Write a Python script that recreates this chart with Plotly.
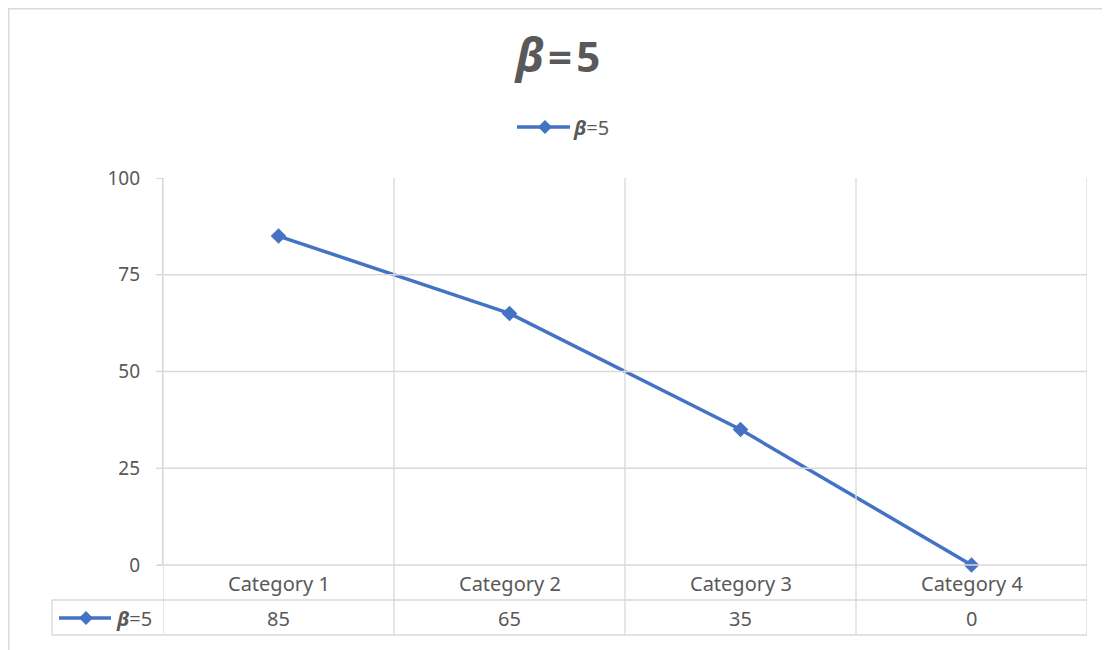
import plotly.graph_objects as go

categories = ["Category 1", "Category 2", "Category 3", "Category 4"]
values = [85, 65, 35, 0]
series_name = "<b><i>β</i></b>=5"
title_text = "<b><i><span style='font-size:46px'>β</span></i>\u200a=\u200a5</b>"
y_ticks = [0, 25, 50, 75, 100]

blue = "#4472C4"
grey = "#D9D9D9"
txt = "#595959"
font = "Noto Sans"

# page has an 8px body margin; positions below are screen pixels
OFF = 8
W, H = 1110 - OFF, 650 - OFF
# plot area on screen: x 163..1087, y 178..565
L, R, T, B = 163, 1087, 178, 565


def px(x):
    return (x - L) / (R - L)


def py(y):
    return (B - y) / (B - T)


fig = go.Figure()
fig.add_trace(go.Scatter(
    x=categories, y=values, name=series_name, mode="lines+markers",
    line=dict(color=blue, width=3.5),
    marker=dict(symbol="diamond", size=12, color=blue),
    showlegend=False, cliponaxis=False,
))

shapes = []
line = dict(color=grey, width=1.3)
# horizontal gridlines (no line at the top value)
for v in y_ticks[1:-1]:
    shapes.append(dict(type="line", xref="paper", yref="y", x0=px(157), x1=1, y0=v, y1=v, line=line))
# category boundaries run down through the data table
for i in range(len(categories) + 1):
    shapes.append(dict(type="line", xref="x", yref="paper", x0=i - 0.5, x1=i - 0.5,
                       y0=py(635), y1=1, line=line))
# table rows
shapes.append(dict(type="line", xref="paper", yref="paper", x0=px(157), x1=1, y0=0, y1=0, line=line))
for yy in (600, 635):
    shapes.append(dict(type="line", xref="paper", yref="paper", x0=px(52), x1=1, y0=py(yy), y1=py(yy), line=line))
shapes.append(dict(type="line", xref="paper", yref="paper", x0=px(52), x1=px(52), y0=py(635), y1=py(600), line=line))


def legend_key(x0, x1, cx, cy, r):
    shapes.append(dict(type="line", xref="paper", yref="paper", x0=px(x0), x1=px(x1), y0=py(cy), y1=py(cy),
                       line=dict(color=blue, width=3.5)))
    shapes.append(dict(type="path", xref="paper", yref="paper",
                       path=f"M {px(cx-r)},{py(cy)} L {px(cx)},{py(cy-r)} L {px(cx+r)},{py(cy)} L {px(cx)},{py(cy+r)} Z",
                       fillcolor=blue, line=dict(color=blue, width=0)))


legend_key(517, 570, 545, 127, 7)
legend_key(59, 111, 86, 618, 7)

# chart area border
shapes.append(dict(type="rect", xref="paper", yref="paper", x0=px(8.7), x1=px(1120), y0=py(660), y1=py(8.7),
                   line=dict(color=grey, width=1.5), layer="below"))

annotations = []
for c, v in zip(categories, values):
    annotations.append(dict(x=c, y=py(583), xref="x", yref="paper", text=c, showarrow=False,
                            xanchor="center", yanchor="middle",
                            font=dict(family=font, size=20, color=txt)))
    annotations.append(dict(x=c, y=py(618), xref="x", yref="paper", text=str(v), showarrow=False,
                            xanchor="center", yanchor="middle",
                            font=dict(family=font, size=20, color=txt)))
for xx, yy in ((114, 618), (571, 127)):
    annotations.append(dict(x=px(xx), y=py(yy), xref="paper", yref="paper", text=series_name, showarrow=False,
                            xanchor="left", yanchor="middle", font=dict(family=font, size=20, color=txt)))

fig.update_layout(
    width=W, height=H,
    margin=dict(l=L - OFF, r=1110 - R, t=T - OFF, b=650 - B, pad=0),
    paper_bgcolor="white", plot_bgcolor="white",
    title=dict(text=title_text, x=(558 - OFF) / W, xanchor="center", y=1 - (57 - OFF) / H, yanchor="middle",
               font=dict(family=font, size=42, color=txt)),
    showlegend=False,
    xaxis=dict(range=[-0.5, len(categories) - 0.5], showticklabels=False, showgrid=False,
               zeroline=False, showline=False, ticks=""),
    yaxis=dict(range=[0, 100], tickvals=y_ticks, showgrid=False, zeroline=False,
               showline=True, linecolor=grey, linewidth=1.3,
               ticks="outside", ticklen=6, tickcolor=grey, tickwidth=1.3,
               ticklabelstandoff=12, tickfont=dict(family=font, size=19, color=txt)),
    shapes=shapes, annotations=annotations,
)

fig.write_html("out.html")
